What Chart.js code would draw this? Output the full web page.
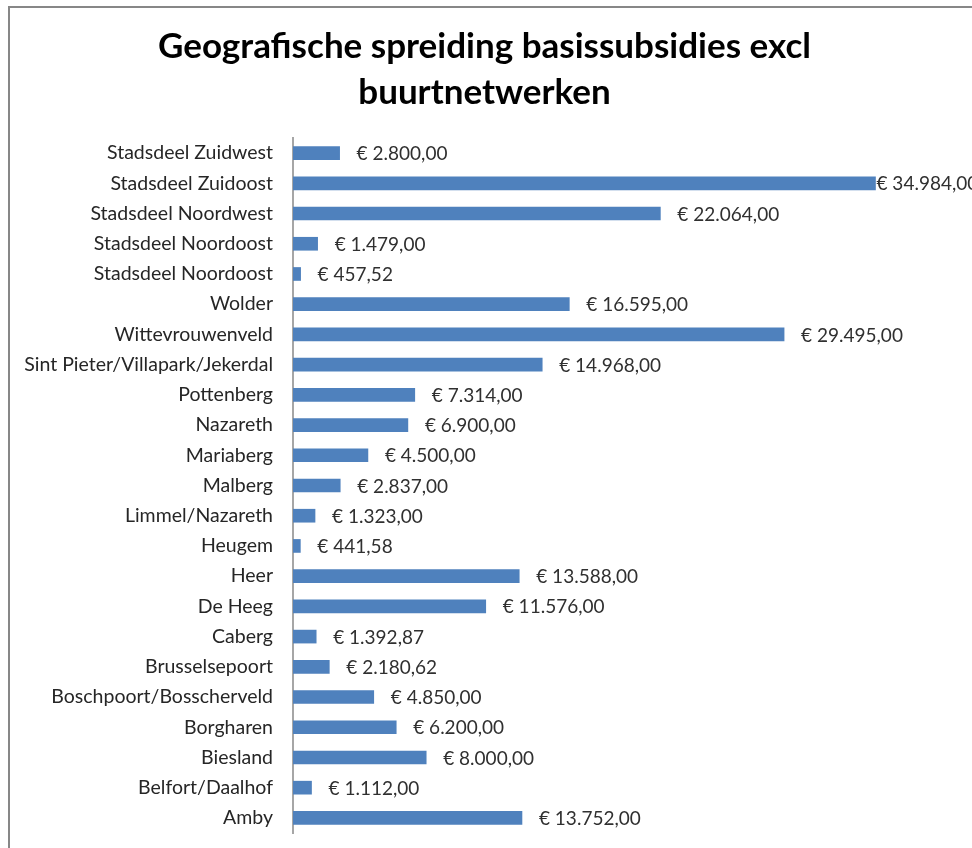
<!DOCTYPE html>
<html>
<head>
<meta charset="utf-8">
<script src="https://cdn.jsdelivr.net/npm/chart.js@4/dist/chart.umd.min.js"></script>
<style>
body { margin: 0; background: #fff; overflow: hidden; }
#frame { position: absolute; left: 8px; top: 6px; width: 1000px; height: 900px; border: 2px solid #878787; }
#wrap { position: absolute; left: 0; top: 0; width: 972px; height: 848px; }
canvas { display: block; }
</style>
</head>
<body>
<div id="frame"></div>
<div id="wrap"><canvas id="cvs" width="972" height="848"></canvas></div>
<script>
var wijken = [
	"Stadsdeel Zuidwest", "Stadsdeel Zuidoost", "Stadsdeel Noordwest", "Stadsdeel Noordoost",
	"Stadsdeel Noordoost", "Wolder", "Wittevrouwenveld", "Sint Pieter/Villapark/Jekerdal",
	"Pottenberg", "Nazareth", "Mariaberg", "Malberg", "Limmel/Nazareth", "Heugem", "Heer",
	"De Heeg", "Caberg", "Brusselsepoort", "Boschpoort/Bosscherveld", "Borgharen",
	"Biesland", "Belfort/Daalhof", "Amby"
];
var bedragen = [
	2800, 34984, 22064, 1479, 457.52, 16595, 29495, 14968, 7314, 6900, 4500, 2837,
	1323, 441.58, 13588, 11576, 1392.87, 2180.62, 4850, 6200, 8000, 1112, 13752
];
var titel = ["Geografische spreiding basissubsidies excl", "buurtnetwerken"];

var fontName = "Lato, 'Open Sans', sans-serif";

function euro(v) {
	var parts = v.toFixed(2).split(".");
	var whole = parts[0].replace(/\B(?=(\d{3})+(?!\d))/g, ".");
	return "€ " + whole + "," + parts[1];
}

// value labels at the end of each bar
var valueLabels = {
	id: "valueLabels",
	afterDatasetsDraw: function (chart) {
		var ctx = chart.ctx;
		var meta = chart.getDatasetMeta(0);
		ctx.save();
		ctx.font = "19px " + fontName;
		ctx.fillStyle = "#303030";
		ctx.textBaseline = "middle";
		ctx.textAlign = "left";
		meta.data.forEach(function (bar, i) {
			var txt = euro(bedragen[i]);
			var x = bar.x + 17;
			if (x + ctx.measureText(txt).width > chart.width) x = bar.x + 1;
			ctx.fillText(txt, x, bar.y + 1);
		});
		ctx.restore();
	}
};

var chart = new Chart("cvs", {
	type: "bar",
	data: {
		labels: wijken,
		datasets: [{
			data: bedragen,
			backgroundColor: "#4F81BD",
			barThickness: 13
		}]
	},
	options: {
		indexAxis: "y",
		responsive: false,
		animation: false,
		layout: { padding: { left: 10, right: 13, top: 0, bottom: 15 } },
		plugins: {
			legend: { display: false },
			tooltip: { enabled: false },
			title: {
				display: true,
				text: titel,
				color: "#000",
				font: { family: fontName, size: 35, weight: "bold", lineHeight: 1.3 },
				padding: { top: 24, bottom: 23 }
			}
		},
		scales: {
			x: { display: false, min: 0, max: 40000 },
			y: {
				grid: { display: false, drawTicks: false },
				border: { display: true, color: "#a6a6a6", width: 2 },
				ticks: { color: "#262626", font: { family: fontName, size: 19.5 }, padding: 20 },
				afterFit: function (scale) {
					scale.width = 283;
					scale.paddingTop = 0;
					scale.paddingBottom = 0;
				}
			}
		}
	},
	plugins: [valueLabels]
});
</script>
</body>
</html>
